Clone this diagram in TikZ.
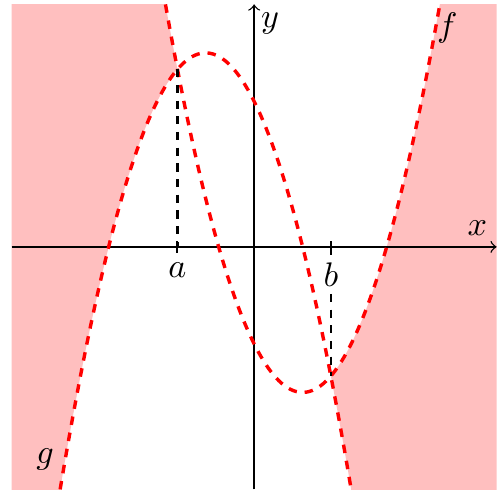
\documentclass[tikz,border=0pt]{standalone}
\usepackage{tikz}
\usetikzlibrary{positioning}
\begin{document}
\begin{tikzpicture}[x=0.5cm,y=0.5cm,>=to,
      declare function={ff(\t)=(\t)*(\t)-2*(\t)-2; gg(\t)=3-2*(\t)-(\t)*(\t);},
      crv/.style={red,line width=1pt,dash pattern=on 2.5pt off 2.3pt,samples=100,smooth},
      gd/.style={black,line width=0.65pt,dash pattern=on 2.4pt off 2.2pt},
      lbl/.style={inner sep=1.5pt}]
    \useasboundingbox (-5.24,-5.11) rectangle (5.11,5.09);
    % region between f and g
    \begin{scope}
      \clip (-5,-5) rectangle (5,5);
      \fill[red!25] plot[domain=-5:-1.5811,samples=60] (\x,{gg(\x)})
        -- plot[domain=-1.5811:-5,samples=60] (\x,{ff(\x)}) -- cycle;
      \fill[red!25] plot[domain=1.5811:5,samples=60] (\x,{gg(\x)})
        -- plot[domain=5:1.5811,samples=60] (\x,{ff(\x)}) -- cycle;
    \end{scope}
    % axes
    \coordinate (xl) at (-5,0);
    \coordinate (xr) at (5,0);
    \coordinate (yb) at (0,-5);
    \coordinate (yt) at (0,5);
    \draw[->] (xl) -- (xr);
    \draw[->] (yb) -- (yt);
    \node (xlab) at (4.6,0.39) {$x$};
    \node (ylab) at (0.33,4.6) {$y$};
    % curves
    \draw[crv,domain=-1.8284:3.8284] plot (\x,{ff(\x)});
    \draw[crv,domain=-4:2] plot (\x,{gg(\x)});
    \node (flab) at (3.98,4.52) {$f$};
    \node (glab) at (-4.31,-4.39) {$g$};
    % intersection points
    \coordinate (a) at (-1.5811,0);
    \coordinate (b) at (1.5811,0);
    \coordinate (A) at (-1.5811,3.6623);
    \coordinate (B) at (1.5811,-2.6623);
    \draw[gd] (A) -- (a);
    \draw[gd] (b) -- (B);
    \foreach \p in {a,b}
      \draw[semithick] ([yshift=-0.06cm]\p) -- ([yshift=0.06cm]\p);
    \node[lbl,below=3pt of a] (alab) {$a$};
    \node[lbl,fill=white,below=3pt of b] (blab) {$b$};
  \end{tikzpicture}
\end{document}
